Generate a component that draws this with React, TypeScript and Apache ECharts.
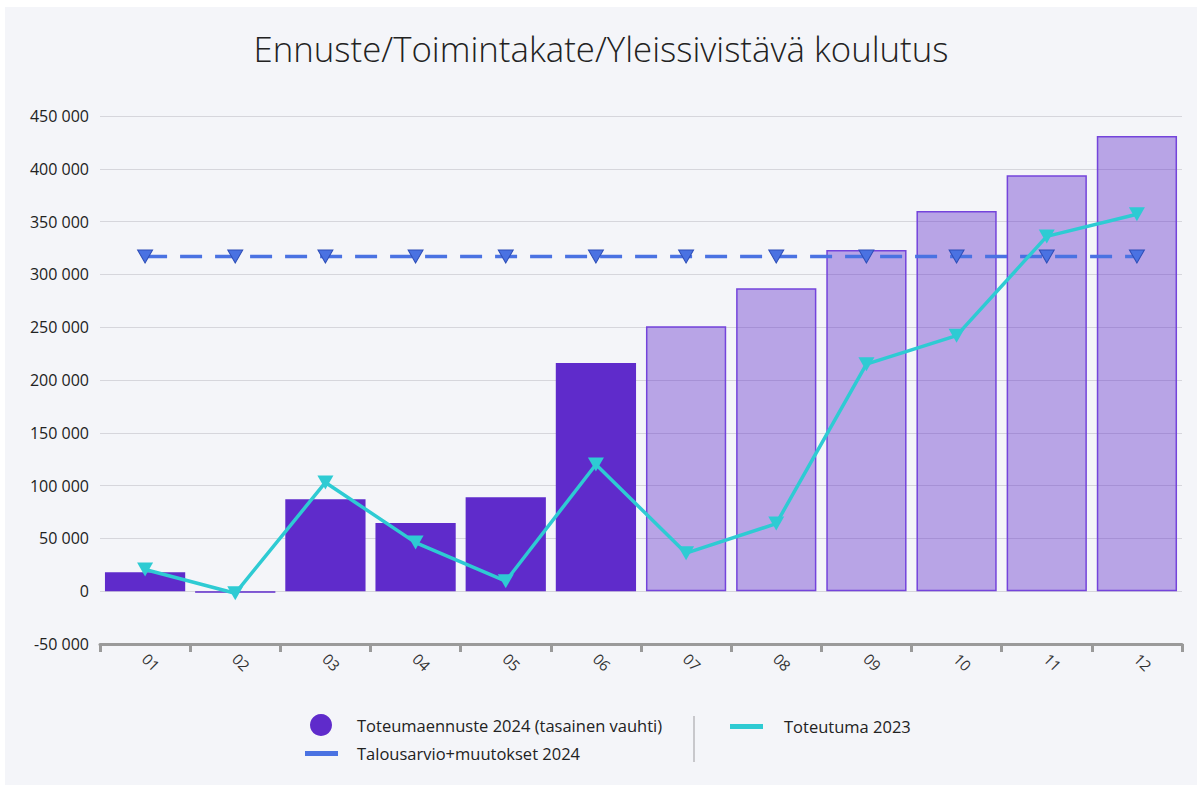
import React, { useEffect, useRef } from "react";
import * as echarts from "echarts";

const months = ["01", "02", "03", "04", "05", "06", "07", "08", "09", "10", "11", "12"];
const forecast2024 = [18000, -1500, 87000, 64500, 89000, 216000, 251000, 287000, 323000, 360000, 394000, 431000];
const actualMonthCount = 6;
const budget2024 = [317000, 317000, 317000, 317000, 317000, 317000, 317000, 317000, 317000, 317000, 317000, 317000];
const actual2023 = [20500, -2000, 103000, 46000, 9500, 120000, 36000, 64000, 215000, 242000, 336000, 357000];

const NAME_BAR = "Toteumaennuste 2024 (tasainen vauhti)";
const NAME_BUDGET = "Talousarvio+muutokset 2024";
const NAME_2023 = "Toteutuma 2023";

const fmt = (v: number) => {
  const s = Math.abs(v).toString().replace(/\B(?=(\d{3})+(?!\d))/g, " ");
  return (v < 0 ? "-" : "") + s;
};

const FONT = "'Open Sans', 'Noto Sans', sans-serif";

export default function App() {
  const ref = useRef<HTMLDivElement>(null);
  useEffect(() => {
    if (!ref.current) return;
    const chart = echarts.init(ref.current, undefined, { renderer: "svg" });
    const barData = forecast2024.map((v, i) =>
      i < actualMonthCount
        ? { value: v }
        : {
            value: v,
            itemStyle: {
              color: "rgba(95,43,203,0.4)",
              borderColor: "#7444db",
              borderWidth: 1.5,
            },
          }
    );
    const legendText = { fontFamily: FONT, fontSize: 16.5, color: "#222" };
    chart.setOption({
      animation: false,
      backgroundColor: "#f4f5f9",
      title: {
        text: "Ennuste/Toimintakate/Yleissivistävä koulutus",
        left: "center",
        top: 19,
        textStyle: { fontFamily: FONT, fontSize: 34.8, fontWeight: 300, color: "#222" },
      },
      grid: { left: 95, right: 15, top: 109, height: 528 },
      legend: [
        {
          data: [{ name: NAME_BAR, icon: "circle" }],
          left: 305,
          top: 707,
          padding: 0,
          itemWidth: 22,
          itemHeight: 22,
          textStyle: { ...legendText, padding: [0, 0, 0, 20] },
        },
        {
          data: [{ name: NAME_BUDGET, icon: "rect" }],
          left: 300,
          top: 738,
          padding: 0,
          itemWidth: 33,
          itemHeight: 5,
          itemStyle: { borderWidth: 0 },
          textStyle: { ...legendText, padding: [0, 0, 0, 14] },
        },
        {
          data: [{ name: NAME_2023, icon: "rect" }],
          left: 725,
          top: 711,
          padding: 0,
          itemWidth: 33,
          itemHeight: 5,
          itemStyle: { borderWidth: 0 },
          textStyle: { ...legendText, padding: [0, 0, 0, 16] },
        },
      ],
      graphic: [
        {
          type: "line",
          shape: { x1: 689, y1: 709, x2: 689, y2: 755 },
          style: { stroke: "#c8c8cc", lineWidth: 2 },
        },
      ],
      xAxis: {
        type: "category",
        data: months,
        boundaryGap: true,
        axisLine: { onZero: false, lineStyle: { color: "#9a9a9a", width: 3 } },
        axisTick: { show: true, length: 8, lineStyle: { color: "#9a9a9a", width: 3 } },
        axisLabel: { rotate: -45, margin: 12, fontFamily: FONT, fontSize: 15, color: "#333" },
      },
      yAxis: {
        type: "value",
        min: -50000,
        max: 450000,
        interval: 50000,
        axisLine: { show: false },
        axisTick: { show: false },
        axisLabel: {
          formatter: (v: number) => fmt(v),
          margin: 11,
          fontFamily: FONT,
          fontSize: 16,
          color: "#222",
        },
        splitLine: { lineStyle: { color: "#d6d6dc", width: 1 } },
      },
      series: [
        {
          name: NAME_BAR,
          type: "bar",
          data: barData,
          barCategoryGap: "11%",
          itemStyle: { color: "#5f2bcb" },
        },
        {
          name: NAME_BUDGET,
          type: "line",
          data: budget2024,
          symbol: "triangle",
          symbolRotate: 180,
          symbolSize: [15, 13],
          itemStyle: { color: "#4a72e2", borderColor: "#2f4fb8", borderWidth: 1 },
          lineStyle: { color: "#4a72e2", width: 3.5, type: [22, 13] },
          z: 3,
        },
        {
          name: NAME_2023,
          type: "line",
          data: actual2023,
          symbol: "triangle",
          symbolRotate: 180,
          symbolSize: [16, 14],
          itemStyle: { color: "#2ecbd3" },
          lineStyle: { color: "#2ecbd3", width: 3.5 },
          z: 4,
        },
      ],
    });
    return () => chart.dispose();
  }, []);
  return (
    <div
      ref={ref}
      style={{ position: "absolute", left: 5, top: 7, width: 1192, height: 778 }}
    />
  );
}
